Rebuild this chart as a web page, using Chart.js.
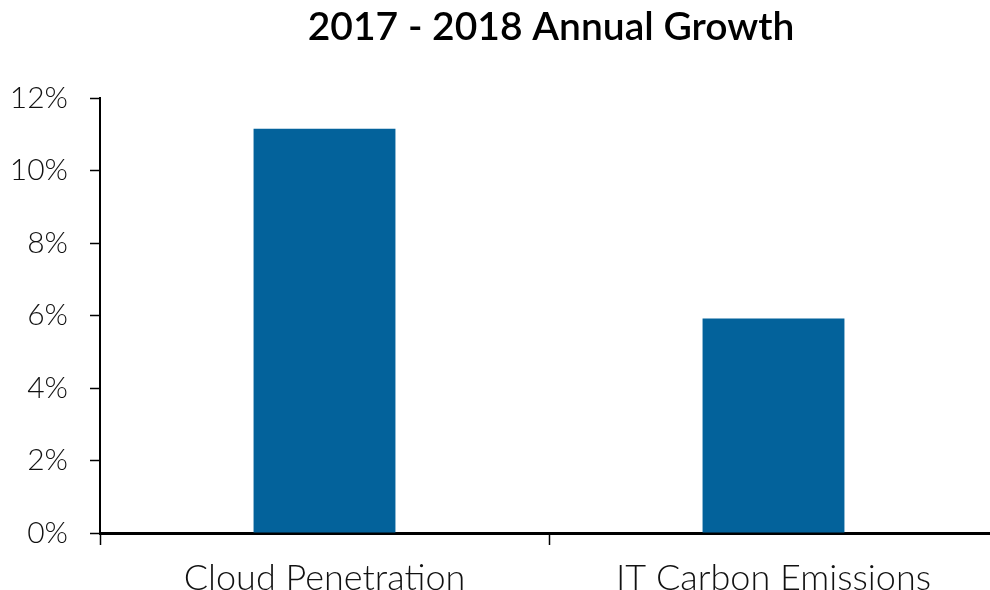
<!DOCTYPE html>
<html>
<head>
<meta charset="utf-8">
<script src="https://cdn.jsdelivr.net/npm/chart.js@4/dist/chart.umd.min.js"></script>
<style>
  html, body { margin: 0; padding: 0; background: #fff; overflow: hidden; }
  .wrap { width: 998px; height: 590px; }
</style>
</head>
<body>
<div class="wrap"><canvas id="growth"></canvas></div>
<script>
const titleText = '2017 - 2018 Annual Growth';
const categories = ['Cloud Penetration', 'IT Carbon Emissions'];
const growth = [11.15, 5.92];
const yTicks = [0, 2, 4, 6, 8, 10, 12];

const font = 'Lato, "Noto Sans", sans-serif';

// title centred over the plot area, not the whole canvas
const plotTitle = {
  id: 'plotTitle',
  afterDraw(chart) {
    const { ctx, chartArea } = chart;
    ctx.save();
    ctx.font = '600 39px ' + font;
    ctx.fillStyle = '#000';
    ctx.textAlign = 'center';
    ctx.textBaseline = 'middle';
    ctx.fillText(titleText, (chartArea.left + chartArea.right) / 2 + 2, 27);
    ctx.restore();
  },
};

new Chart(document.getElementById('growth'), {
  type: 'bar',
  data: {
    labels: categories,
    datasets: [{
      data: growth,
      backgroundColor: '#03629b',
      barPercentage: 0.316,
      categoryPercentage: 1,
    }],
  },
  options: {
    responsive: true,
    maintainAspectRatio: false,
    animation: false,
    layout: { padding: { top: 98, left: 0, right: 0, bottom: 0 } },
    plugins: {
      legend: { display: false },
      tooltip: { enabled: false },
    },
    scales: {
      x: {
        afterFit(axis) { axis.height = 57; },
        border: { color: '#000', width: 3 },
        grid: { drawOnChartArea: false, tickLength: 12, tickColor: '#000', tickWidth: 1.5 },
        ticks: { color: '#111', padding: 12, font: { family: font, size: 36, weight: 300 } },
      },
      y: {
        min: 0,
        max: 12,
        afterBuildTicks(axis) { axis.ticks = yTicks.map((v) => ({ value: v })); },
        afterFit(axis) { axis.width = 100; },
        border: { color: '#000', width: 2 },
        grid: { drawOnChartArea: false, tickLength: 10, tickColor: '#000', tickWidth: 1.5 },
        ticks: {
          color: '#111',
          padding: 22,
          font: { family: font, size: 30, weight: 300 },
          callback: (v) => v + '%',
        },
      },
    },
  },
  plugins: [plotTitle],
});
</script>
</body>
</html>
